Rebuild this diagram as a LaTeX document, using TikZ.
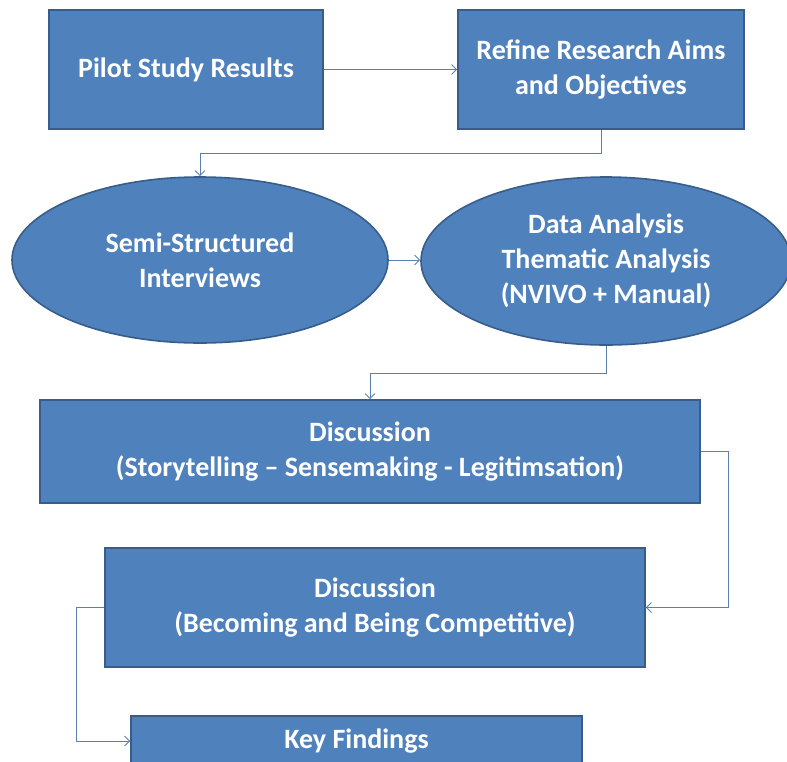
\documentclass[tikz,border=0pt]{standalone}
\usepackage{fontspec}
\setmainfont{Carlito}
\usetikzlibrary{shapes.geometric,arrows.meta}
\definecolor{boxfill}{HTML}{4F81BD}
\definecolor{boxline}{HTML}{385D8A}
\definecolor{linkcol}{HTML}{5A80AC}
\begin{document}
\begin{tikzpicture}[x=1pt,y=-1pt,
  base/.style={fill=boxfill,draw=boxline,line width=1.6pt,text=white,
    font=\fontsize{28}{35}\selectfont\bfseries,align=center,inner sep=0pt},
  rbox/.style={base,rectangle},
  oval/.style={base,ellipse},
  link/.style={draw=linkcol,line width=0.9pt,
    -{Straight Barb[length=5pt,width=10pt]}}]
\useasboundingbox (0,0) rectangle (787,761);

\node[rbox,minimum width=274,minimum height=119] (pilot) at (186,69.5) {Pilot Study Results};
\node[rbox,minimum width=286,minimum height=119] (refine) at (601,69.5) {Refine Research Aims\\and Objectives};
\node[oval,minimum width=376,minimum height=166] (interviews) at (200,260) {Semi-Structured\\Interviews};
\node[oval,minimum width=370,minimum height=168] (analysis) at (606,261) {Data Analysis\\Thematic Analysis\\(NVIVO + Manual)};
\node[rbox,minimum width=660,minimum height=103] (disc1) at (370,451.5) {Discussion\\(Storytelling -- Sensemaking - Legitimsation)};
\node[rbox,minimum width=540,minimum height=119] (disc2) at (375,607.5) {Discussion\\(Becoming and Being Competitive)};
\node[rbox,minimum width=451,minimum height=50] (key) at (356.5,741) {Key Findings};

\draw[link] (pilot.east) -- (refine.west);
\draw[link] (refine.south) -- ++(0,24) -| (interviews.north);
\draw[link] (interviews.east) -- (interviews.east -| analysis.west);
\draw[link] (analysis.south) -- ++(0,28) -| (disc1.north);
\draw[link] (disc1.east) -- ++(28,0) |- (disc2.east);
\draw[link] (disc2.west) -- ++(-28,0) |- (key.west);
\end{tikzpicture}
\end{document}
